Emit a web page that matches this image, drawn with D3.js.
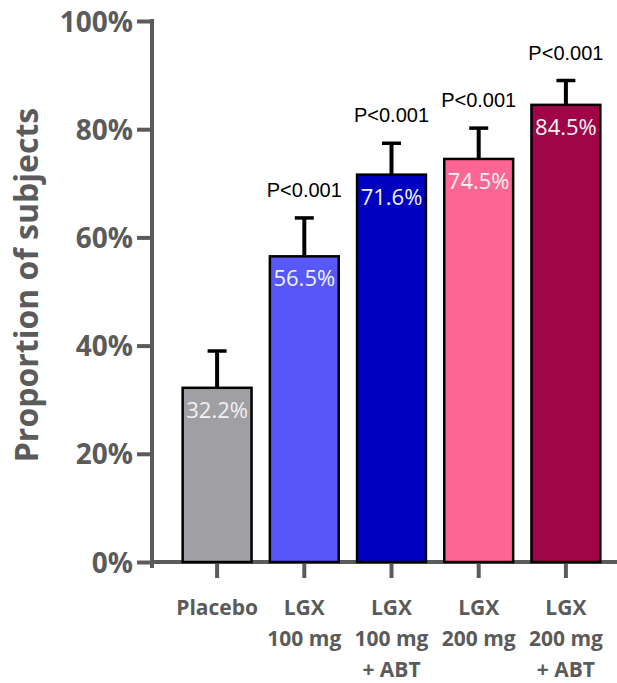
<!DOCTYPE html>
<html>
<head>
<meta charset="UTF-8">
<title></title>
<style>
  body { margin: 0; background: #fff; }
</style>
</head>
<body>
<script src="https://d3js.org/d3.v7.min.js" charset="utf-8"></script>
<script>
var width = 617;
var height = 683;

// data
var groups = ["Placebo", "LGX 100 mg", "LGX 100 mg + ABT", "LGX 200 mg", "LGX 200 mg + ABT"];
var groupLines = [["Placebo"], ["LGX", "100 mg"], ["LGX", "100 mg", "+ ABT"], ["LGX", "200 mg"], ["LGX", "200 mg", "+ ABT"]];
var values = [32.2, 56.5, 71.6, 74.5, 84.5];
var errorTops = [39.0, 63.6, 77.4, 80.2, 89.0];
var pLabels = ["", "P<0.001", "P<0.001", "P<0.001", "P<0.001"];
var barColors = ["#a09fa4", "#5757fa", "#0000c0", "#fc6694", "#a00548"];
var yTicks = [0, 20, 40, 60, 80, 100];

var axisColor = "#5b5b5b";

var svg = d3.select("body").append("svg")
    .attr("width", width)
    .attr("height", height);

var x = d3.scaleBand()
    .domain(groups)
    .range([173.5, 609.5])
    .paddingInner(0.21)
    .paddingOuter(0.105);

var y = d3.scaleLinear()
    .domain([0, 100])
    .range([562, 21]);

// y axis
var yAxis = d3.axisLeft(y)
    .tickValues(yTicks)
    .tickFormat(function(d){ return d + "%"; })
    .tickSize(15)
    .tickSizeOuter(0)
    .tickPadding(4);

var gy = svg.append("g")
    .attr("transform", "translate(152,0)")
    .call(yAxis);
gy.select(".domain").remove();
gy.selectAll(".tick line")
    .attr("stroke", axisColor)
    .attr("stroke-width", 4);
gy.selectAll(".tick text")
    .attr("fill", axisColor)
    .attr("font-family", "Open Sans")
    .attr("font-weight", "bold")
    .attr("font-size", 28)
    .attr("dy", "0.36em");
gy.append("line")
    .attr("x1", 0).attr("x2", 0)
    .attr("y1", y(100) - 2).attr("y2", 568)
    .attr("stroke", axisColor)
    .attr("stroke-width", 4);

// x axis
svg.append("line")
    .attr("x1", 150).attr("x2", width)
    .attr("y1", y(0)).attr("y2", y(0))
    .attr("stroke", axisColor)
    .attr("stroke-width", 4);

var gx = svg.append("g")
    .attr("transform", "translate(0," + y(0) + ")");
gx.selectAll(".xtick")
    .data(groups)
    .enter()
    .append("line")
    .attr("x1", function(d){ return x(d) + x.bandwidth() / 2; })
    .attr("x2", function(d){ return x(d) + x.bandwidth() / 2; })
    .attr("y1", 0)
    .attr("y2", 16)
    .attr("stroke", axisColor)
    .attr("stroke-width", 4);

var xl = gx.selectAll(".xlabel")
    .data(groups)
    .enter()
    .append("text")
    .attr("text-anchor", "middle")
    .attr("fill", axisColor)
    .attr("font-family", "Open Sans")
    .attr("font-weight", "bold")
    .attr("font-size", 21);
xl.each(function(d, i){
    var t = d3.select(this);
    groupLines[i].forEach(function(line, j){
        t.append("tspan")
            .attr("x", x(d) + x.bandwidth() / 2)
            .attr("y", 53 + j * 31)
            .text(line);
    });
});

// y title
svg.append("text")
    .attr("transform", "translate(38,285) rotate(-90)")
    .attr("text-anchor", "middle")
    .attr("fill", axisColor)
    .attr("font-family", "Open Sans")
    .attr("font-weight", "bold")
    .attr("font-size", 32)
    .text("Proportion of subjects");

// error bars
var eb = svg.selectAll(".err")
    .data(groups)
    .enter()
    .append("g");
eb.append("line")
    .attr("x1", function(d){ return x(d) + x.bandwidth() / 2; })
    .attr("x2", function(d){ return x(d) + x.bandwidth() / 2; })
    .attr("y1", function(d, i){ return y(values[i]); })
    .attr("y2", function(d, i){ return y(errorTops[i]); })
    .attr("stroke", "#000")
    .attr("stroke-width", 4);
eb.append("line")
    .attr("x1", function(d){ return x(d) + x.bandwidth() / 2 - 9.5; })
    .attr("x2", function(d){ return x(d) + x.bandwidth() / 2 + 9.5; })
    .attr("y1", function(d, i){ return y(errorTops[i]); })
    .attr("y2", function(d, i){ return y(errorTops[i]); })
    .attr("stroke", "#000")
    .attr("stroke-width", 3.5);

// bars
svg.selectAll(".bar")
    .data(groups)
    .enter()
    .append("rect")
    .attr("x", function(d){ return x(d); })
    .attr("width", x.bandwidth())
    .attr("y", function(d, i){ return y(values[i]); })
    .attr("height", function(d, i){ return y(0) - y(values[i]); })
    .attr("fill", function(d, i){ return barColors[i]; })
    .attr("stroke", "#000")
    .attr("stroke-width", 2.5);

// value labels
svg.selectAll(".val")
    .data(groups)
    .enter()
    .append("text")
    .attr("x", function(d){ return x(d) + x.bandwidth() / 2; })
    .attr("y", function(d, i){ return y(values[i]) + 30; })
    .attr("text-anchor", "middle")
    .attr("fill", "#f2f2f2")
    .attr("font-family", "Open Sans")
    .attr("font-size", 22)
    .text(function(d, i){ return values[i].toFixed(1) + "%"; });

// p labels
svg.selectAll(".pval")
    .data(groups)
    .enter()
    .append("text")
    .attr("x", function(d){ return x(d) + x.bandwidth() / 2; })
    .attr("y", function(d, i){ return y(errorTops[i]) - 21; })
    .attr("text-anchor", "middle")
    .attr("fill", "#000")
    .attr("font-family", "Liberation Sans")
    .attr("font-size", 20)
    .text(function(d, i){ return pLabels[i]; });
</script>
</body>
</html>
